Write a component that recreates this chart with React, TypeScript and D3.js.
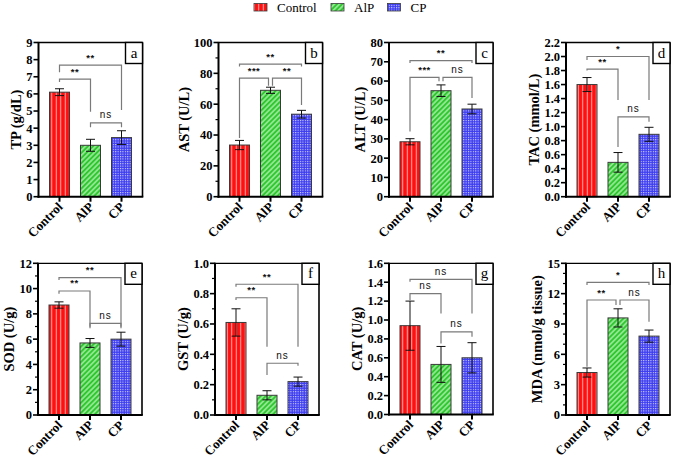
import React from "react";
import * as d3 from "d3";

const categories = ["Control", "AlP", "CP"];

// a: TP
const tpMean = [6.1, 3.0, 3.45];
const tpErr = [0.2, 0.35, 0.4];
// b: AST
const astMean = [33.5, 69, 53.5];
const astErr = [3, 2, 2.5];
// c: ALT
const altMean = [28.5, 55, 45.5];
const altErr = [1.6, 3, 2.5];
// d: TAC
const tacMean = [1.6, 0.49, 0.89];
const tacErr = [0.1, 0.14, 0.1];
// e: SOD
const sodMean = [8.7, 5.7, 6.0];
const sodErr = [0.25, 0.35, 0.55];
// f: GST
const gstMean = [0.61, 0.13, 0.22];
const gstErr = [0.09, 0.03, 0.03];
// g: CAT
const catMean = [0.94, 0.53, 0.6];
const catErr = [0.26, 0.19, 0.16];
// h: MDA
const mdaMean = [4.2, 9.6, 7.8];
const mdaErr = [0.45, 0.9, 0.6];

// brackets: [from, to, level, leftEnd, rightEnd, label] (data units)
const tpBrackets: [number, number, number, number, number, string][] = [
  [0, 2, 7.68, 7.27, 5.06, "**"],
  [0, 1, 6.86, 6.69, 4.96, "**"],
  [1, 2, 4.31, 4.06, 4.06, "ns"],
];
const astBrackets: [number, number, number, number, number, string][] = [
  [0, 2, 86, 84.4, 84.4, "**"],
  [0, 1, 76.9, 38, 71.9, "***"],
  [1, 2, 76.9, 71.9, 59.5, "**"],
];
const altBrackets: [number, number, number, number, number, string][] = [
  [0, 2, 70.6, 69.4, 69.4, "**"],
  [0, 1, 61.9, 33.8, 59.9, "***"],
  [1, 2, 61.9, 59.9, 51.2, "ns"],
];
const tacBrackets: [number, number, number, number, number, string][] = [
  [0, 2, 2.0, 1.95, 1.38, "*"],
  [0, 1, 1.82, 1.8, 1.38, "**"],
  [1, 2, 1.14, 0.71, 1.07, "ns"],
];
const sodBrackets: [number, number, number, number, number, string][] = [
  [0, 2, 10.86, 10.68, 6.99, "**"],
  [0, 1, 9.81, 9.6, 6.99, "**"],
  [1, 2, 7.25, 6.86, 6.86, "ns"],
];
const gstBrackets: [number, number, number, number, number, string][] = [
  [0, 2, 0.862, 0.846, 0.45, "**"],
  [0, 1, 0.773, 0.758, 0.45, "**"],
  [1, 2, 0.341, 0.264, 0.325, "ns"],
];
const catBrackets: [number, number, number, number, number, string][] = [
  [0, 2, 1.43, 1.405, 1.07, "ns"],
  [0, 1, 1.28, 1.21, 1.07, "ns"],
  [1, 2, 0.875, 0.752, 0.822, "ns"],
];
const mdaBrackets: [number, number, number, number, number, string][] = [
  [0, 2, 13.12, 12.86, 12.86, "*"],
  [0, 1, 11.37, 4.78, 10.88, "**"],
  [1, 2, 11.37, 10.88, 9.23, "ns"],
];

const yTitles = ["TP (g/dL)", "AST (U/L)", "ALT (U/L)", "TAC (mmol/L)", "SOD (U/g)", "GST (U/g)", "CAT (U/g)", "MDA (nmol/g tissue)"];
const panelLetters = ["a", "b", "c", "d", "e", "f", "g", "h"];
// y axis: [max, major step, minor step (0 = none), decimals]
const yAxes: [number, number, number, number][] = [
  [9, 1, 0, 0],
  [100, 20, 10, 0],
  [80, 10, 0, 0],
  [2.2, 0.2, 0, 1],
  [12, 2, 1, 0],
  [1.0, 0.2, 0.1, 1],
  [1.6, 0.2, 0, 1],
  [15, 3, 1, 0],
];

const means = [tpMean, astMean, altMean, tacMean, sodMean, gstMean, catMean, mdaMean];
const errs = [tpErr, astErr, altErr, tacErr, sodErr, gstErr, catErr, mdaErr];
const brackets = [tpBrackets, astBrackets, altBrackets, tacBrackets, sodBrackets, gstBrackets, catBrackets, mdaBrackets];

// layout: right edge, top, bottom
const layout: [number, number, number][] = [
  [142.5, 42.5, 196.7],
  [322.5, 42.5, 196.7],
  [493, 42.5, 196.7],
  [670, 42.5, 196.7],
  [142, 263.3, 415],
  [319, 263.3, 415],
  [493, 263.3, 414.5],
  [670, 263.3, 415],
];

const fills = ["url(#patRed)", "url(#patGreen)", "url(#patBlue)"];
const SERIF = "'Liberation Serif', 'Times New Roman', serif";
const SANS = "'Liberation Sans', Arial, sans-serif";

function labelWidth(s: string) {
  let w = 0;
  for (const c of s) w += c === "." ? 3 : 6;
  return w;
}

function Panel({ idx }: { idx: number }) {
  const [right, top, bottom] = layout[idx];
  const left = right - 104;
  const [max, major, minor, dec] = yAxes[idx];
  const y = d3.scaleLinear().domain([0, max]).range([bottom, top]);
  const x = d3
    .scaleBand()
    .domain(categories)
    .range([right - 93, right - 11])
    .paddingInner(11 / 31)
    .paddingOuter(0);
  const bw = x.bandwidth();
  const cx = (i: number) => (x(categories[i]) as number) + bw / 2;
  const fmt = d3.format(dec ? ".1f" : "d");
  const majorTicks = d3.range(0, max + major / 2, major).map((v) => +v.toFixed(4));
  const minorTicks = minor
    ? d3.range(0, max + minor / 2, minor).map((v) => +v.toFixed(4)).filter((v) => majorTicks.every((m) => Math.abs(m - v) > 1e-6))
    : [];
  const maxLab = d3.max(majorTicks.map((t) => labelWidth(fmt(t)))) as number;
  const titleX = left - maxLab - 17;
  const br = brackets[idx];
  const shared = (bi: number, bar: number) =>
    br.some((o, oi) => oi !== bi && Math.abs(o[2] - br[bi][2]) < 1e-9 && (o[0] === bar || o[1] === bar));

  return (
    <g>
      {/* bars */}
      {means[idx].map((m, i) => (
        <rect key={"b" + i} x={x(categories[i])} y={y(m)} width={bw} height={bottom - y(m)} fill={fills[i]} stroke="#3a3a3a" strokeWidth={1} />
      ))}
      {/* error bars */}
      {means[idx].map((m, i) => {
        const e = errs[idx][i];
        const c = cx(i);
        return (
          <g key={"e" + i} stroke="#111" strokeWidth={1}>
            <line x1={c} x2={c} y1={y(m - e)} y2={y(m + e)} />
            <line x1={c - 4.5} x2={c + 4.5} y1={y(m + e)} y2={y(m + e)} />
            <line x1={c - 4.5} x2={c + 4.5} y1={y(m - e)} y2={y(m - e)} />
          </g>
        );
      })}
      {/* brackets */}
      {br.map((b, bi) => {
        const [i, j, lvl, le, re, lab] = b;
        const x1 = cx(i) + (shared(bi, i) ? 2 : 0);
        const x2 = cx(j) - (shared(bi, j) ? 2 : 0);
        const yl = y(lvl);
        return (
          <g key={"br" + bi}>
            <path d={`M${x1},${y(le)}V${yl}H${x2}V${y(re)}`} fill="none" stroke="#7a7a7a" strokeWidth={1.2} />
            <text x={(x1 + x2) / 2} y={yl - 4.5} textAnchor="middle" fontFamily={SANS} fontSize={lab === "ns" ? 10 : 9.5} fontWeight={lab === "ns" ? 400 : 700} letterSpacing={lab === "ns" ? 1 : 0.5} fill="#111">
              {lab}
            </text>
          </g>
        );
      })}
      {/* frame */}
      <line x1={left} x2={right} y1={top} y2={top} stroke="#000" strokeWidth={1.3} />
      <line x1={right} x2={right} y1={top} y2={bottom} stroke="#000" strokeWidth={1.6} />
      <line x1={left} x2={left} y1={top - 0.6} y2={bottom + 1} stroke="#000" strokeWidth={2} />
      <line x1={left - 1} x2={right + 0.8} y1={bottom} y2={bottom} stroke="#000" strokeWidth={2} />
      {/* y ticks */}
      {majorTicks.map((t) => (
        <g key={"t" + t}>
          <line x1={left - 5} x2={left} y1={y(t)} y2={y(t)} stroke="#000" strokeWidth={1.6} />
          <text x={left - 6} y={y(t)} dy="0.35em" textAnchor="end" fontFamily={SERIF} fontWeight={700} fontSize={12.5} fill="#000">
            {fmt(t)}
          </text>
        </g>
      ))}
      {minorTicks.map((t) => (
        <line key={"m" + t} x1={left - 3} x2={left} y1={y(t)} y2={y(t)} stroke="#000" strokeWidth={1.2} />
      ))}
      {/* x ticks and labels */}
      {categories.map((c, i) => (
        <g key={"x" + i}>
          <line x1={cx(i)} x2={cx(i)} y1={bottom} y2={bottom + 5} stroke="#000" strokeWidth={2} />
          <text transform={`translate(${cx(i) + 4},${bottom + 11}) rotate(-45)`} textAnchor="end" fontFamily={SERIF} fontWeight={700} fontSize={13} fill="#000">
            {c}
          </text>
        </g>
      ))}
      {/* y title */}
      <text transform={`translate(${titleX},${(top + bottom) / 2}) rotate(-90)`} textAnchor="middle" dy="0.35em" fontFamily={SERIF} fontWeight={700} fontSize={14.5} fill="#000">
        {yTitles[idx]}
      </text>
      {/* panel letter */}
      <rect x={right - 17} y={top} width={17} height={21} fill="#fff" stroke="#000" strokeWidth={1.4} />
      <text x={right - 8.5} y={top + 15} textAnchor="middle" fontFamily={SERIF} fontSize={15} fill="#000">
        {panelLetters[idx]}
      </text>
    </g>
  );
}

export default function App() {
  const legendX = [254, 331, 387.5];
  return (
    <svg width={673} height={460} style={{ position: "absolute", left: 0, top: 0, background: "#fff" }}>
      <defs>
        <pattern id="patRed" patternUnits="userSpaceOnUse" width={4.5} height={5}>
          <rect width={4.5} height={5} fill="#ff1010" />
          <line x1={2.25} x2={2.25} y1={0} y2={5} stroke="#ffb0b0" strokeWidth={1} />
        </pattern>
        <pattern id="patGreen" patternUnits="userSpaceOnUse" width={3.6} height={3.6} patternTransform="rotate(45)">
          <rect width={3.6} height={3.6} fill="#2ec82e" />
          <line x1={1.8} x2={1.8} y1={0} y2={3.6} stroke="#d0f8d0" strokeWidth={1.1} />
        </pattern>
        <pattern id="patBlue" patternUnits="userSpaceOnUse" width={2.4} height={2.4}>
          <rect width={2.4} height={2.4} fill="#3c3cf0" />
          <rect width={1.1} height={1.1} fill="#dcdcff" />
        </pattern>
      </defs>
      {/* legend */}
      {categories.map((c, i) => (
        <g key={"lg" + i}>
          <rect x={legendX[i]} y={3.5} width={13} height={7.5} fill={fills[i]} stroke="#3a3a3a" strokeWidth={0.8} />
          <text x={legendX[i] + 23} y={11.5} fontFamily={SERIF} fontSize={13} fill="#000">
            {c}
          </text>
        </g>
      ))}
      {layout.map((_, i) => (
        <Panel key={i} idx={i} />
      ))}
    </svg>
  );
}
